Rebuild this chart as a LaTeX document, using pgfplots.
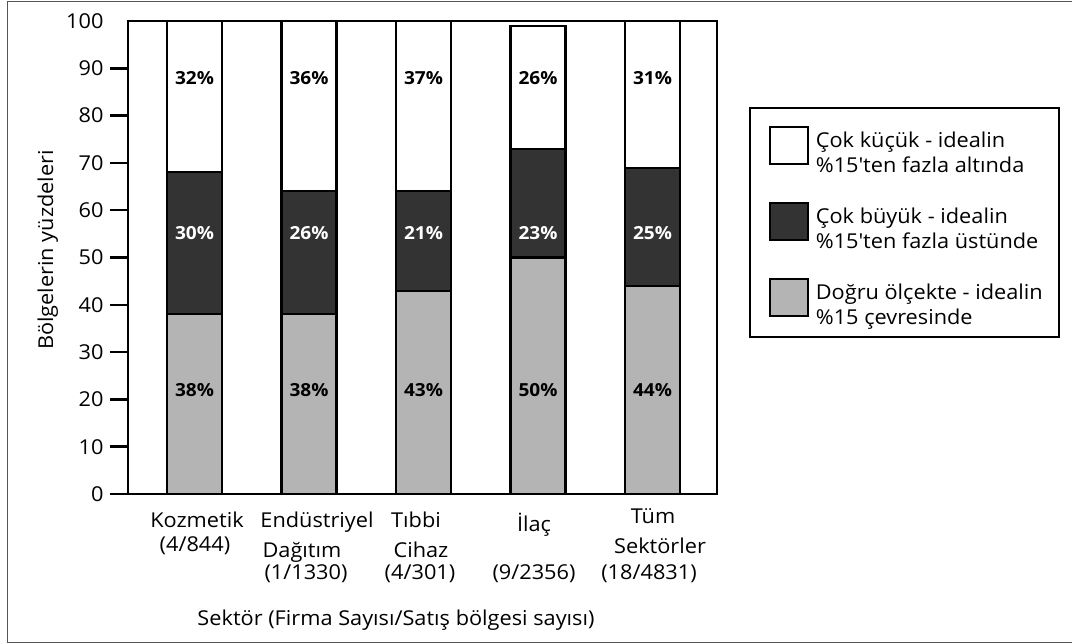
\documentclass[border=0pt]{standalone}
\usepackage{fontspec}
\setmainfont{Open Sans}[FakeStretch=1.06]
\usepackage{pgfplots}
\usepackage{pgfplotstable}
\pgfplotsset{compat=1.18}

\definecolor{barDark}{HTML}{333333}
\definecolor{barGray}{HTML}{B4B4B4}
\definecolor{frameGray}{HTML}{555555}

% sector index, share within +-15% of ideal, share >15% above, share >15% below
\pgfplotstableread{
x ok big small
0 38 30 32
1 38 26 36
2 43 21 37
3 50 23 26
4 44 25 31
}\sectordata

\newcommand\lab{\fontsize{20.5bp}{25bp}\selectfont}

\begin{document}
\begin{tikzpicture}
\path[use as bounding box] (0bp,0bp) rectangle (1072bp,644bp);
\draw[frameGray, line width=1.3bp] (7.5bp,1.5bp) rectangle (1080bp,642.5bp);

\pgfplotsset{
  panel/.style={
    at={(128bp,150bp)}, anchor=south west,
    scale only axis, width=589bp, height=473bp,
    xmin=-0.581, xmax=4.563, ymin=0, ymax=100,
  }
}

\begin{axis}[
  panel,
  axis on top,
  ybar stacked, bar width=55bp,
  axis line style={line width=2.2bp},
  xtick=\empty,
  ytick={0,10,...,90},
  extra y ticks={100},
  extra y tick style={tick style={draw=none}},
  ytick pos=left, tick align=outside, major tick length=18bp,
  tick style={black, line width=2.5bp},
  yticklabel style={font=\lab, xshift=-3bp},
  /pgf/number format/assume math mode=true,
  every axis plot/.append style={draw=black, line width=2.2bp},
  reverse legend,
  legend cell align=left,
  legend style={
    at={(1.0543,0.8182)}, anchor=north west,
    draw=black, line width=1.8bp,
    font=\lab,
    cells={align=left},
    inner xsep=14bp, inner ysep=9bp,
    row sep=17bp,
  },
  legend image code/.code={
    \path[draw=none, fill=none] (0bp,36bp) -- (50bp,0bp);
    \draw[line width=2bp] (6bp,-11bp) rectangle (44bp,26bp);
  },
]
\addplot[fill=barGray] table[x=x, y=ok] {\sectordata};
\addlegendentry{Doğru ölçekte - idealin\\\%15 çevresinde}
\addplot[fill=barDark] table[x=x, y=big] {\sectordata};
\addlegendentry{Çok büyük - idealin\\\%15\textquotesingle ten fazla üstünde}
\addplot[fill=white] table[x=x, y=small] {\sectordata};
\addlegendentry{Çok küçük - idealin\\\%15\textquotesingle ten fazla altında}
\end{axis}

% percentage labels, set at fixed heights inside each segment
\begin{axis}[
  panel, hide axis, clip=false,
  /pgf/number format/assume math mode=true,
  nodes near coords={\pgfmathprintnumber{\pgfplotspointmeta}\%},
  nodes near coords align=center,
  every node near coord/.append style={font=\fontsize{18bp}{20bp}\selectfont\bfseries, anchor=center},
]
\addplot[draw=none, point meta=explicit] table[x=x, y expr=22, meta=ok] {\sectordata};
\addplot[draw=none, point meta=explicit, every node near coord/.append style={text=white}] table[x=x, y expr=55.2, meta=big] {\sectordata};
\addplot[draw=none, point meta=explicit] table[x=x, y expr=87.9, meta=small] {\sectordata};
% upper and right frame edges of the plot area
\draw[line width=2.2bp, line cap=rect] (rel axis cs:0,1) -- (rel axis cs:1,1) -- (rel axis cs:1,0);
\end{axis}

% sector names with firm / sales-territory counts
\begin{scope}[every node/.style={font=\lab, anchor=base, inner sep=0pt}]
\node at (197bp,116bp) {Kozmetik};
\node at (195bp,92bp) {(4/844)};
\node at (317bp,116bp) {Endüstriyel};
\node at (302bp,86bp) {Dağıtım};
\node at (306bp,64bp) {(1/1330)};
\node at (416bp,116bp) {Tıbbi};
\node at (421bp,86bp) {Cihaz};
\node at (420bp,64bp) {(4/301)};
\node at (534bp,112bp) {İlaç};
\node at (534bp,64bp) {(9/2356)};
\node at (653bp,120bp) {Tüm};
\node at (660bp,90bp) {Sektörler};
\node at (649bp,64bp) {(18/4831)};
\node at (396bp,19bp) {Sektör (Firma Sayısı/Satış bölgesi sayısı)};
\node[rotate=90] at (53bp,394bp) {Bölgelerin yüzdeleri};
\end{scope}
\end{tikzpicture}
\end{document}
